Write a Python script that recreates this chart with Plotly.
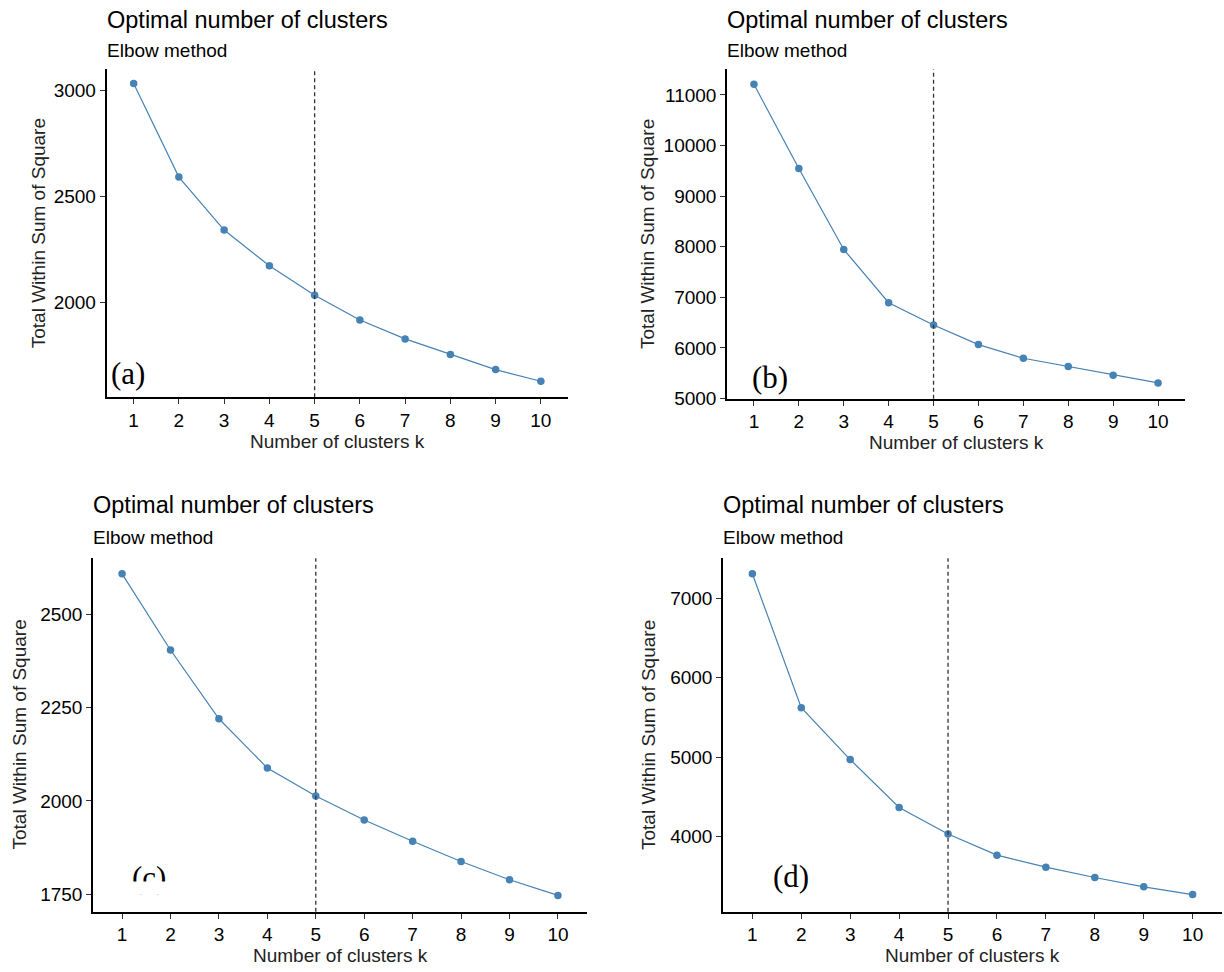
import plotly.graph_objects as go

W, H = 1224, 972
FIG_H = 984  # the page photo is compressed vertically; this keeps the paper fractions aligned

k = [1, 2, 3, 4, 5, 6, 7, 8, 9, 10]
wss_a = [3032, 2590, 2340, 2171, 2032, 1915, 1826, 1752, 1681, 1626]
wss_b = [11210, 9546, 7947, 6895, 6454, 6066, 5796, 5632, 5461, 5309]
wss_c = [2608, 2404, 2220, 2088, 2013, 1949, 1892, 1838, 1789, 1747]
wss_d = [7306, 5622, 4971, 4369, 4034, 3769, 3618, 3488, 3371, 3274]
optimal_k = 5
panel_labels = ["(a)", "(b)", "(c)", "(d)"]
title_text = "Optimal number of clusters"
subtitle_text = "Elbow method"
x_title = "Number of clusters k"
y_title = "Total Within Sum of Square"

series = [wss_a, wss_b, wss_c, wss_d]

boxes = [(106.5, 568, 69, 396.5), (727, 1185, 69, 398), (93, 587, 557, 910), (723, 1222, 557, 910)]
yranges = [[1550, 3100], [4995, 11510], [1703, 2650], [3056, 7503]]
ydticks = [500, 1000, 250, 1000]
ytitle_x = [38, 648, 19.5, 648]
label_pos = [(128, 373), (770, 377), (148.5, 876), (790.5, 875)]

def px(x):
    return x / W

def py(y):
    return 1 - y / H

FONT = "Liberation Sans, Arial, sans-serif"
STEEL = "#4682B4"

fig = go.Figure()
annotations = []
shapes = []

for i, (vals, box) in enumerate(zip(series, boxes)):
    n = "" if i == 0 else str(i + 1)
    x0, x1, yt, yb = box
    fig.add_trace(go.Scatter(
        x=k, y=vals, mode="lines+markers",
        line=dict(color=STEEL, width=1.2),
        marker=dict(color=STEEL, size=7.5, symbol="circle"),
        xaxis="x" + n, yaxis="y" + n, showlegend=False, hoverinfo="x+y",
    ))
    axis_common = dict(
        showgrid=False, zeroline=False, showline=True, linecolor="black", linewidth=1.5,
        ticks="outside", ticklen=5, tickwidth=1.2, tickcolor="#333",
        tickfont=dict(family=FONT, size=19, color="black"),
    )
    fig.layout["xaxis" + n] = dict(
        domain=[px(x0), px(x1)], anchor="y" + n, range=[0.4, 10.6],
        tickmode="array", tickvals=k, ticktext=[str(v) for v in k], **axis_common)
    fig.layout["yaxis" + n] = dict(
        domain=[py(yb), py(yt)], anchor="x" + n, range=yranges[i],
        dtick=ydticks[i], tick0=0, tickformat="d", **axis_common)
    shapes.append(dict(type="line", xref="x" + n, yref="y" + n + " domain",
                       x0=optimal_k, x1=optimal_k, y0=0, y1=1,
                       line=dict(color="#333", width=1.3, dash="4px,3px")))
    title_y = 19.5 if i < 2 else 504
    sub_y = 50.5 if i < 2 else 536
    annotations.append(dict(text=title_text, xref="paper", yref="paper", x=px(x0 - 2), y=py(title_y),
                            xanchor="left", yanchor="middle", showarrow=False,
                            font=dict(family=FONT, size=23.5, color="black")))
    annotations.append(dict(text=subtitle_text, xref="paper", yref="paper", x=px(x0 - 2), y=py(sub_y),
                            xanchor="left", yanchor="middle", showarrow=False,
                            font=dict(family=FONT, size=19, color="black")))
    annotations.append(dict(text=x_title, xref="paper", yref="paper", x=px((x0 + x1) / 2), y=py(yb + 44),
                            xanchor="center", yanchor="middle", showarrow=False,
                            font=dict(family=FONT, size=19, color="#222")))
    annotations.append(dict(text=y_title, xref="paper", yref="paper", x=px(ytitle_x[i]), y=py((yt + yb) / 2),
                            xanchor="center", yanchor="middle", showarrow=False, textangle=-90,
                            font=dict(family=FONT, size=19, color="#222")))
    lx, ly = label_pos[i]
    annotations.append(dict(text=panel_labels[i], xref="paper", yref="paper", x=px(lx), y=py(ly),
                            xanchor="center", yanchor="middle", showarrow=False,
                            font=dict(family="Liberation Serif, Times New Roman, serif", size=31, color="black")))

# the "(c)" label is clipped at its bottom in the original
annotations.append(dict(text=" ", xref="paper", yref="paper", x=px(148.5), y=py(879),
                        xanchor="center", yanchor="top", showarrow=False,
                        width=56, height=12, bgcolor="white", borderpad=0,
                        font=dict(size=6)))

fig.update_layout(
    width=W, height=FIG_H, autosize=False,
    margin=dict(l=0, r=0, t=0, b=0),
    paper_bgcolor="white", plot_bgcolor="white",
    annotations=annotations, shapes=shapes,
)

post = (
    "document.documentElement.style.margin='0px';document.body.style.margin='0px';"
    "document.body.style.padding='0px';"
)

fig.write_html("out.html", config={"displayModeBar": False}, post_script=post)
